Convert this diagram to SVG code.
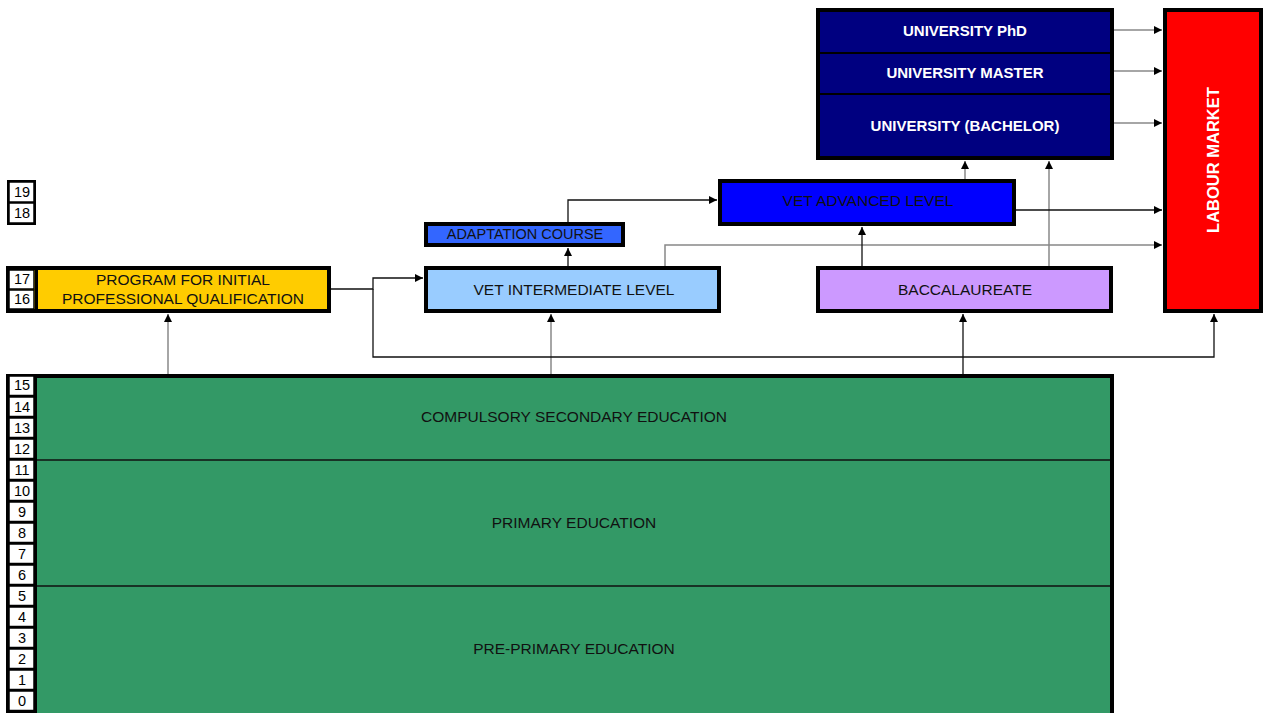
<svg xmlns="http://www.w3.org/2000/svg" width="1263" height="713" viewBox="0 0 1263 713">
<style>
text{font-family:"Liberation Sans",Arial,sans-serif;font-size:15.5px;text-anchor:middle;dominant-baseline:central}
.w{fill:#fff;font-weight:bold;font-size:15px}
.lm{font-size:16.5px}
.d{fill:#111}
.n{font-size:14.5px;fill:#000}
.box{stroke:#000;stroke-width:4}
.cell{fill:#fff;stroke:#000;stroke-width:1.5}
.k{fill:none;stroke:#111;stroke-width:1.3}
.g{fill:none;stroke:#888;stroke-width:1.5}
</style>
<defs>
<marker id="ah" viewBox="0 0 10 10" refX="10" refY="5" markerWidth="8" markerHeight="8" markerUnits="userSpaceOnUse" orient="auto"><path d="M0,0L10,5L0,10z" fill="#000"/></marker>
</defs>
<rect width="1263" height="713" fill="#fff"/>

<g id="connectors">
<path class="g" d="M168,376V314" marker-end="url(#ah)"/>
<path class="g" d="M551,376V314" marker-end="url(#ah)"/>
<path class="k" d="M963,376V314" marker-end="url(#ah)"/>
<path class="k" d="M331,289H373V278H423" marker-end="url(#ah)"/>
<path class="k" d="M373,289V357H1214V314" marker-end="url(#ah)"/>
<path class="k" d="M568,266V248" marker-end="url(#ah)"/>
<path class="k" d="M568,222V200H717" marker-end="url(#ah)"/>
<path class="g" d="M665,266V245H1162" marker-end="url(#ah)"/>
<path class="k" d="M862,266V227" marker-end="url(#ah)"/>
<path class="g" d="M1049,266V161" marker-end="url(#ah)"/>
<path class="g" d="M965,179V161" marker-end="url(#ah)"/>
<path class="k" d="M1016,210H1162" marker-end="url(#ah)"/>
<path class="g" d="M1114,30H1162" marker-end="url(#ah)"/>
<path class="g" d="M1114,71H1162" marker-end="url(#ah)"/>
<path class="g" d="M1114,123H1162" marker-end="url(#ah)"/>
</g>

<g id="ages1918">
<rect x="7" y="180" width="29" height="45" fill="#000"/>
<rect class="cell" x="9" y="182" width="25" height="20"/>
<rect class="cell" x="9" y="203" width="25" height="20"/>
<text class="n" x="22" y="192">19</text>
<text class="n" x="22" y="213">18</text>
</g>

<g id="program">
<rect class="box" x="8" y="268" width="321" height="43" fill="#FFCC00"/>
<rect x="35" y="268" width="3" height="43" fill="#000"/>
<rect class="cell" x="9" y="270" width="25" height="19"/>
<rect class="cell" x="9" y="290" width="25" height="19"/>
<text class="n" x="22" y="279">17</text>
<text class="n" x="22" y="299">16</text>
<text class="d" x="183" y="279">PROGRAM FOR INITIAL</text>
<text class="d" x="183" y="298">PROFESSIONAL QUALIFICATION</text>
</g>

<g id="vet-intermediate">
<rect class="box" x="426" y="268" width="293" height="43" fill="#99CCFF"/>
<text class="d" x="574" y="289">VET INTERMEDIATE LEVEL</text>
</g>

<g id="adaptation">
<rect class="box" x="426" y="224" width="197" height="21" fill="#3366FF"/>
<text class="d" x="525" y="234" style="font-size:14.5px">ADAPTATION COURSE</text>
</g>

<g id="vet-advanced">
<rect class="box" x="720" y="181" width="294" height="43" fill="#0000FF"/>
<text class="d" x="868" y="200">VET ADVANCED LEVEL</text>
</g>

<g id="baccalaureate">
<rect class="box" x="818" y="268" width="293" height="43" fill="#CC99FF"/>
<text class="d" x="965" y="289">BACCALAUREATE</text>
</g>

<g id="university">
<rect class="box" x="818" y="10" width="294" height="148" fill="#000080"/>
<line x1="818" y1="53" x2="1112" y2="53" stroke="#000" stroke-width="2"/>
<line x1="818" y1="94" x2="1112" y2="94" stroke="#000" stroke-width="2"/>
<text class="w" x="965" y="30">UNIVERSITY PhD</text>
<text class="w" x="965" y="72">UNIVERSITY MASTER</text>
<text class="w" x="965" y="125">UNIVERSITY (BACHELOR)</text>
</g>

<g id="labour-market">
<rect class="box" x="1165" y="10" width="96" height="301" fill="#FF0000"/>
<text class="w lm" transform="translate(1213,160) rotate(-90)">LABOUR MARKET</text>
</g>

<g id="schooling">
<rect x="6" y="374" width="1108" height="340" fill="#000"/>
<rect x="37" y="378" width="1073" height="336" fill="#339966"/>
<line x1="37" y1="460" x2="1110" y2="460" stroke="#111" stroke-width="1.5"/>
<line x1="37" y1="586" x2="1110" y2="586" stroke="#111" stroke-width="1.5"/>
<g id="age-cells">
<rect class="cell" x="9" y="376" width="25" height="19.5"/>
<rect class="cell" x="9" y="397" width="25" height="19.5"/>
<rect class="cell" x="9" y="418" width="25" height="19.5"/>
<rect class="cell" x="9" y="439" width="25" height="19.5"/>
<rect class="cell" x="9" y="460" width="25" height="19.5"/>
<rect class="cell" x="9" y="481" width="25" height="19.5"/>
<rect class="cell" x="9" y="502" width="25" height="19.5"/>
<rect class="cell" x="9" y="523" width="25" height="19.5"/>
<rect class="cell" x="9" y="544" width="25" height="19.5"/>
<rect class="cell" x="9" y="565" width="25" height="19.5"/>
<rect class="cell" x="9" y="586" width="25" height="19.5"/>
<rect class="cell" x="9" y="607" width="25" height="19.5"/>
<rect class="cell" x="9" y="628" width="25" height="19.5"/>
<rect class="cell" x="9" y="649" width="25" height="19.5"/>
<rect class="cell" x="9" y="670" width="25" height="19.5"/>
<rect class="cell" x="9" y="691" width="25" height="19.5"/>
<text class="n" x="22" y="385">15</text>
<text class="n" x="22" y="407">14</text>
<text class="n" x="22" y="428">13</text>
<text class="n" x="22" y="449">12</text>
<text class="n" x="22" y="470">11</text>
<text class="n" x="22" y="491">10</text>
<text class="n" x="22" y="512">9</text>
<text class="n" x="22" y="533">8</text>
<text class="n" x="22" y="554">7</text>
<text class="n" x="22" y="575">6</text>
<text class="n" x="22" y="596">5</text>
<text class="n" x="22" y="617">4</text>
<text class="n" x="22" y="638">3</text>
<text class="n" x="22" y="659">2</text>
<text class="n" x="22" y="680">1</text>
<text class="n" x="22" y="701">0</text>
</g>
<text class="d" x="574" y="416">COMPULSORY SECONDARY EDUCATION</text>
<text class="d" x="574" y="522">PRIMARY EDUCATION</text>
<text class="d" x="574" y="648">PRE-PRIMARY EDUCATION</text>
</g>
</svg>
